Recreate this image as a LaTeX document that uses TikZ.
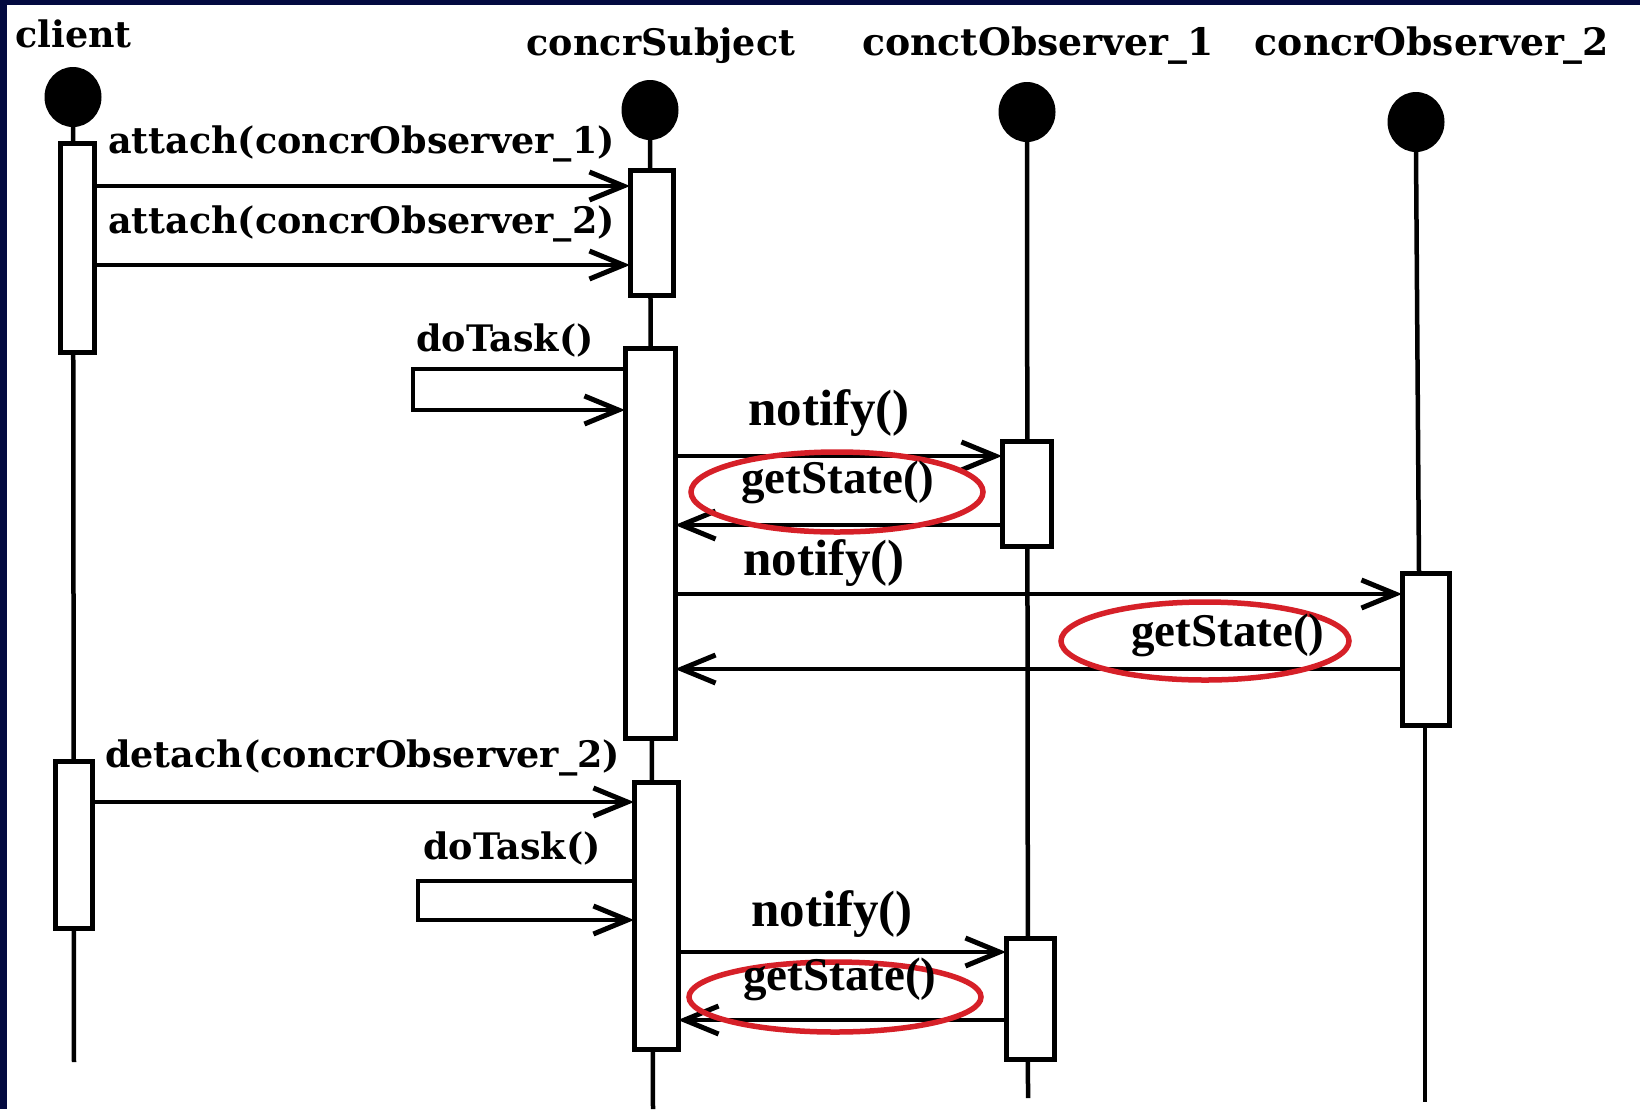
\documentclass[tikz,border=0pt]{standalone}
\usepackage{fontspec}
\usetikzlibrary{arrows.meta,shapes.geometric}
\newfontfamily\labelfont{DejaVu Serif}
\newfontfamily\callfont{Liberation Serif}
\definecolor{slidebg}{RGB}{3,10,64}
\definecolor{ringred}{RGB}{214,32,40}

\begin{document}
\begin{tikzpicture}[x=1pt,y=-1pt,
  lbl/.style={font={\labelfont\bfseries\fontsize{36.5}{40}\selectfont}, anchor=base west, inner sep=0pt},
  hdr/.style={lbl, anchor=base},
  wide/.style={font={\labelfont\bfseries\fontsize{37.8}{40}\selectfont}},
  call/.style={font={\callfont\bfseries\fontsize{47}{50}\selectfont}, anchor=base west, inner sep=0pt},
  callwide/.style={font={\callfont\bfseries\fontsize{51}{54}\selectfont}},
  head/.style={ellipse, fill=black, minimum width=57pt, minimum height=60pt, inner sep=0pt},
  life/.style={line width=4.5pt},
  act/.style={draw, line width=5pt, fill=white, anchor=north west, inner sep=0pt, outer sep=0pt},
  msg/.style={line width=4.5pt, -{Straight Barb[length=34pt,width=28pt,line width=5pt]}},
  redring/.style={ellipse, draw=ringred, line width=5.5pt, inner sep=0pt}
]
% slide background and white sheet
\fill[slidebg] (0,0) rectangle (1640,1109);
\fill[white] (7,5) rectangle (1640,1109);
\useasboundingbox (0,0) rectangle (1640,1109);

% object names
\node[lbl] (tclient) at (15,47) {client};
\node[hdr] (tsubj) at (661,55) {concrSubject};
\node[hdr, wide] (tobs1) at (1038,55) {conctObserver\_1};
\node[hdr, wide] (tobs2) at (1432,55) {concrObserver\_2};

% lifeline heads
\node[head] (hclient) at (73,97) {};
\node[head] (hsubj) at (650,110) {};
\node[head] (hobs1) at (1027,112) {};
\node[head] (hobs2) at (1416,122) {};

% lifelines
\coordinate (eclient) at (74,1062);
\coordinate (esubj) at (653,1109);
\coordinate (eobs1) at (1028,1098);
\coordinate (mobs2) at (1419,573);
\coordinate (kobs2) at (1425,725);
\coordinate (eobs2) at (1425,1102);
\draw[life] (hclient.south) -- (eclient);
\draw[life] (hsubj.south) -- (esubj);
\draw[life] (hobs1.south) -- (eobs1);
\draw[life] (hobs2.south) -- (mobs2);
\draw[life] (kobs2) -- (eobs2);

% activation bars
\node[act, minimum width=34pt, minimum height=209pt] (ca1) at (60,143) {};
\node[act, minimum width=37pt, minimum height=167pt] (ca2) at (55,761) {};
\node[act, minimum width=43pt, minimum height=125pt] (sa1) at (630,170) {};
\node[act, minimum width=50pt, minimum height=390pt] (sa2) at (625,348) {};
\node[act, minimum width=44pt, minimum height=267pt] (sa3) at (634,782) {};
\node[act, minimum width=49pt, minimum height=105pt] (oa1) at (1002,441) {};
\node[act, minimum width=48pt, minimum height=121pt] (oa2) at (1006,938) {};
\node[act, minimum width=47pt, minimum height=152pt] (pa1) at (1402,573) {};

% messages
\draw[msg] (ca1.east |- 0,186) -- (sa1.west |- 0,186);
\draw[msg] (ca1.east |- 0,265) -- (sa1.west |- 0,265);
\draw[msg] (sa2.west |- 0,369) -- (413,369) -- (413,410) -- (sa2.west |- 0,410);
\draw[msg] (sa2.east |- 0,456) -- (oa1.west |- 0,456);
\draw[msg] (oa1.west |- 0,525) -- (sa2.east |- 0,525);
\draw[msg] (sa2.east |- 0,594) -- (pa1.west |- 0,594);
\draw[msg] (pa1.west |- 0,669) -- (sa2.east |- 0,669);
\draw[msg] (ca2.east |- 0,802) -- (sa3.west |- 0,802);
\draw[msg] (sa3.west |- 0,881) -- (418,881) -- (418,920) -- (sa3.west |- 0,920);
\draw[msg] (sa3.east |- 0,952) -- (oa2.west |- 0,952);
\draw[msg] (oa2.west |- 0,1020) -- (sa3.east |- 0,1020);

% highlighted calls
\node[redring, minimum width=292pt, minimum height=80pt] (r1) at (837,492) {};
\node[redring, minimum width=288pt, minimum height=78pt] (r2) at (1205,641) {};
\node[redring, minimum width=292pt, minimum height=70pt] (r3) at (835,997) {};

% message labels
\node[lbl] (m1) at (108,153) {attach(concrObserver\_1)};
\node[lbl] (m2) at (108,233) {attach(concrObserver\_2)};
\node[lbl] (m3) at (416,351) {doTask()};
\node[call, callwide] (m4) at (748,425) {notify()};
\node[call] (m5) at (741,493) {getState()};
\node[call, callwide] (m6) at (743,575) {notify()};
\node[call] (m7) at (1131,646) {getState()};
\node[lbl] (m8) at (105,767) {detach(concrObserver\_2)};
\node[lbl] (m9) at (423,859) {doTask()};
\node[call, callwide] (m10) at (751,926) {notify()};
\node[call] (m11) at (743,990) {getState()};
\end{tikzpicture}
\end{document}
